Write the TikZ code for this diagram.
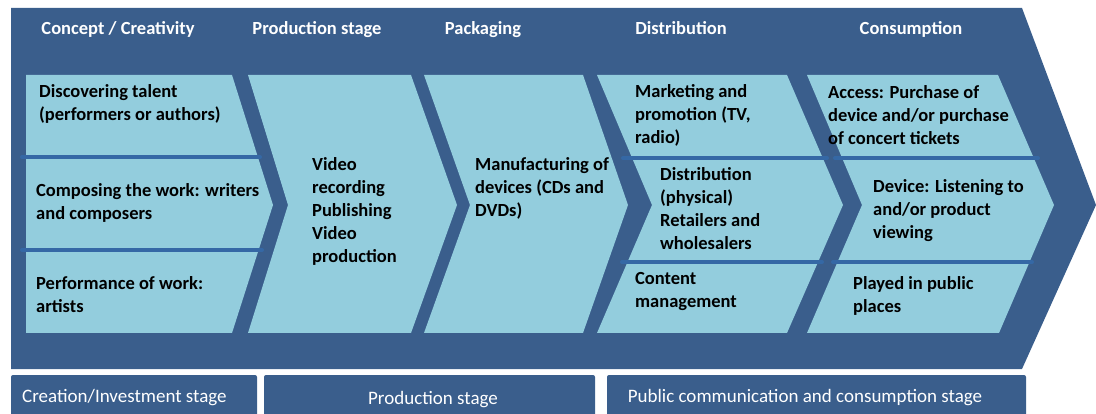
\documentclass[tikz,border=0pt]{standalone}
\usepackage{fontspec}
\setmainfont{Carlito}

\definecolor{chevdark}{HTML}{3A5E8C}
\definecolor{chevlight}{HTML}{93CDDD}
\definecolor{splitline}{HTML}{3568A5}

\tikzset{
    header/.style={anchor=base, text=white, font=\bfseries\fontsize{18.5}{22}\selectfont, inner sep=0pt},
    celltext/.style={anchor=west, align=left, inner sep=0pt, font=\bfseries\fontsize{18.5}{23}\selectfont},
    stagetext/.style={anchor=base, text=white, inner sep=0pt, font=\fontsize{19}{22}\selectfont},
    split/.style={splitline, line width=4pt, line cap=round}
}

\begin{document}
\begin{tikzpicture}[x=1pt,y=-1pt]

    % Page size
    \useasboundingbox (0,0) rectangle (1096,414);

    % Big arrow behind everything
    \fill[chevdark] (11,8) -- (1022,8) -- (1096,205) -- (1022,369) -- (11,369) -- cycle;

    % Light chevrons, one per step
    \fill[chevlight] (26,75) -- (232,75) -- (273,205) -- (232,333) -- (26,333) -- cycle; % concept
    \fill[chevlight] (248,75) -- (411,75) -- (457,205) -- (411,333) -- (248,333) -- (288,205) -- cycle; % production
    \fill[chevlight] (424,75) -- (583,75) -- (628,205) -- (583,333) -- (424,333) -- (470,205) -- cycle; % packaging
    \fill[chevlight] (597,75) -- (787,75) -- (843,205) -- (787,333) -- (597,333) -- (652,205) -- cycle; % distribution
    \fill[chevlight] (807,75) -- (998,75) -- (1054,205) -- (999,333) -- (807,333) -- (862,205) -- cycle; % consumption

    % Lines splitting the cells
    \draw[split] (22,157) -- (260,157);
    \draw[split] (22,250) -- (262,250);
    \draw[split] (623,158) -- (827,158);
    \draw[split] (622,262) -- (822,262);
    \draw[split] (835,158) -- (1038,158);
    \draw[split] (833,262) -- (1032,262);

    % Step headers
    \node[header] (concept) at (118,35) {Concept / Creativity};
    \node[header] (production) at (317,35) {Production stage};
    \node[header] (packaging) at (483,35) {Packaging};
    \node[header] (distribution) at (681,35) {Distribution};
    \node[header] (consumption) at (911,35) {Consumption};

    % Cell texts
    \node[celltext] (talent) at (39,103.5) {Discovering talent\\(performers or authors)};
    \node[celltext] (composing) at (36,203) {Composing the work: writers\\and composers};
    \node[celltext] (performance) at (36,295) {Performance of work:\\artists};
    \node[celltext] (recording) at (312,211) {Video\\recording\\Publishing\\Video\\production};
    \node[celltext] (manufacturing) at (475,188.5) {Manufacturing of\\devices (CDs and\\DVDs)};
    \node[celltext] (marketing) at (635,115.5) {Marketing and\\promotion (TV,\\radio)};
    \node[celltext] (physical) at (660,209) {Distribution\\(physical)\\Retailers and\\wholesalers};
    \node[celltext] (content) at (635,291.5) {Content\\management};
    \node[celltext] (access) at (828,115.5) {Access: Purchase of\\device and/or purchase\\of concert tickets};
    \node[celltext] (device) at (873,210.5) {Device: Listening to\\and/or product\\viewing};
    \node[celltext] (public) at (853,295.5) {Played in public\\places};

    % Stage boxes along the bottom
    \fill[chevdark, rounded corners=2pt] (11,375) rectangle (257,424);
    \fill[chevdark, rounded corners=2pt] (264,375) rectangle (595,424);
    \fill[chevdark, rounded corners=2pt] (607,375) rectangle (1026,424);
    \node[stagetext, anchor=base west] (creation) at (22,402) {Creation/Investment stage};
    \node[stagetext] (prodstage) at (433,404) {Production stage};
    \node[stagetext] (publicstage) at (805,402) {Public communication and consumption stage};

\end{tikzpicture}
\end{document}
